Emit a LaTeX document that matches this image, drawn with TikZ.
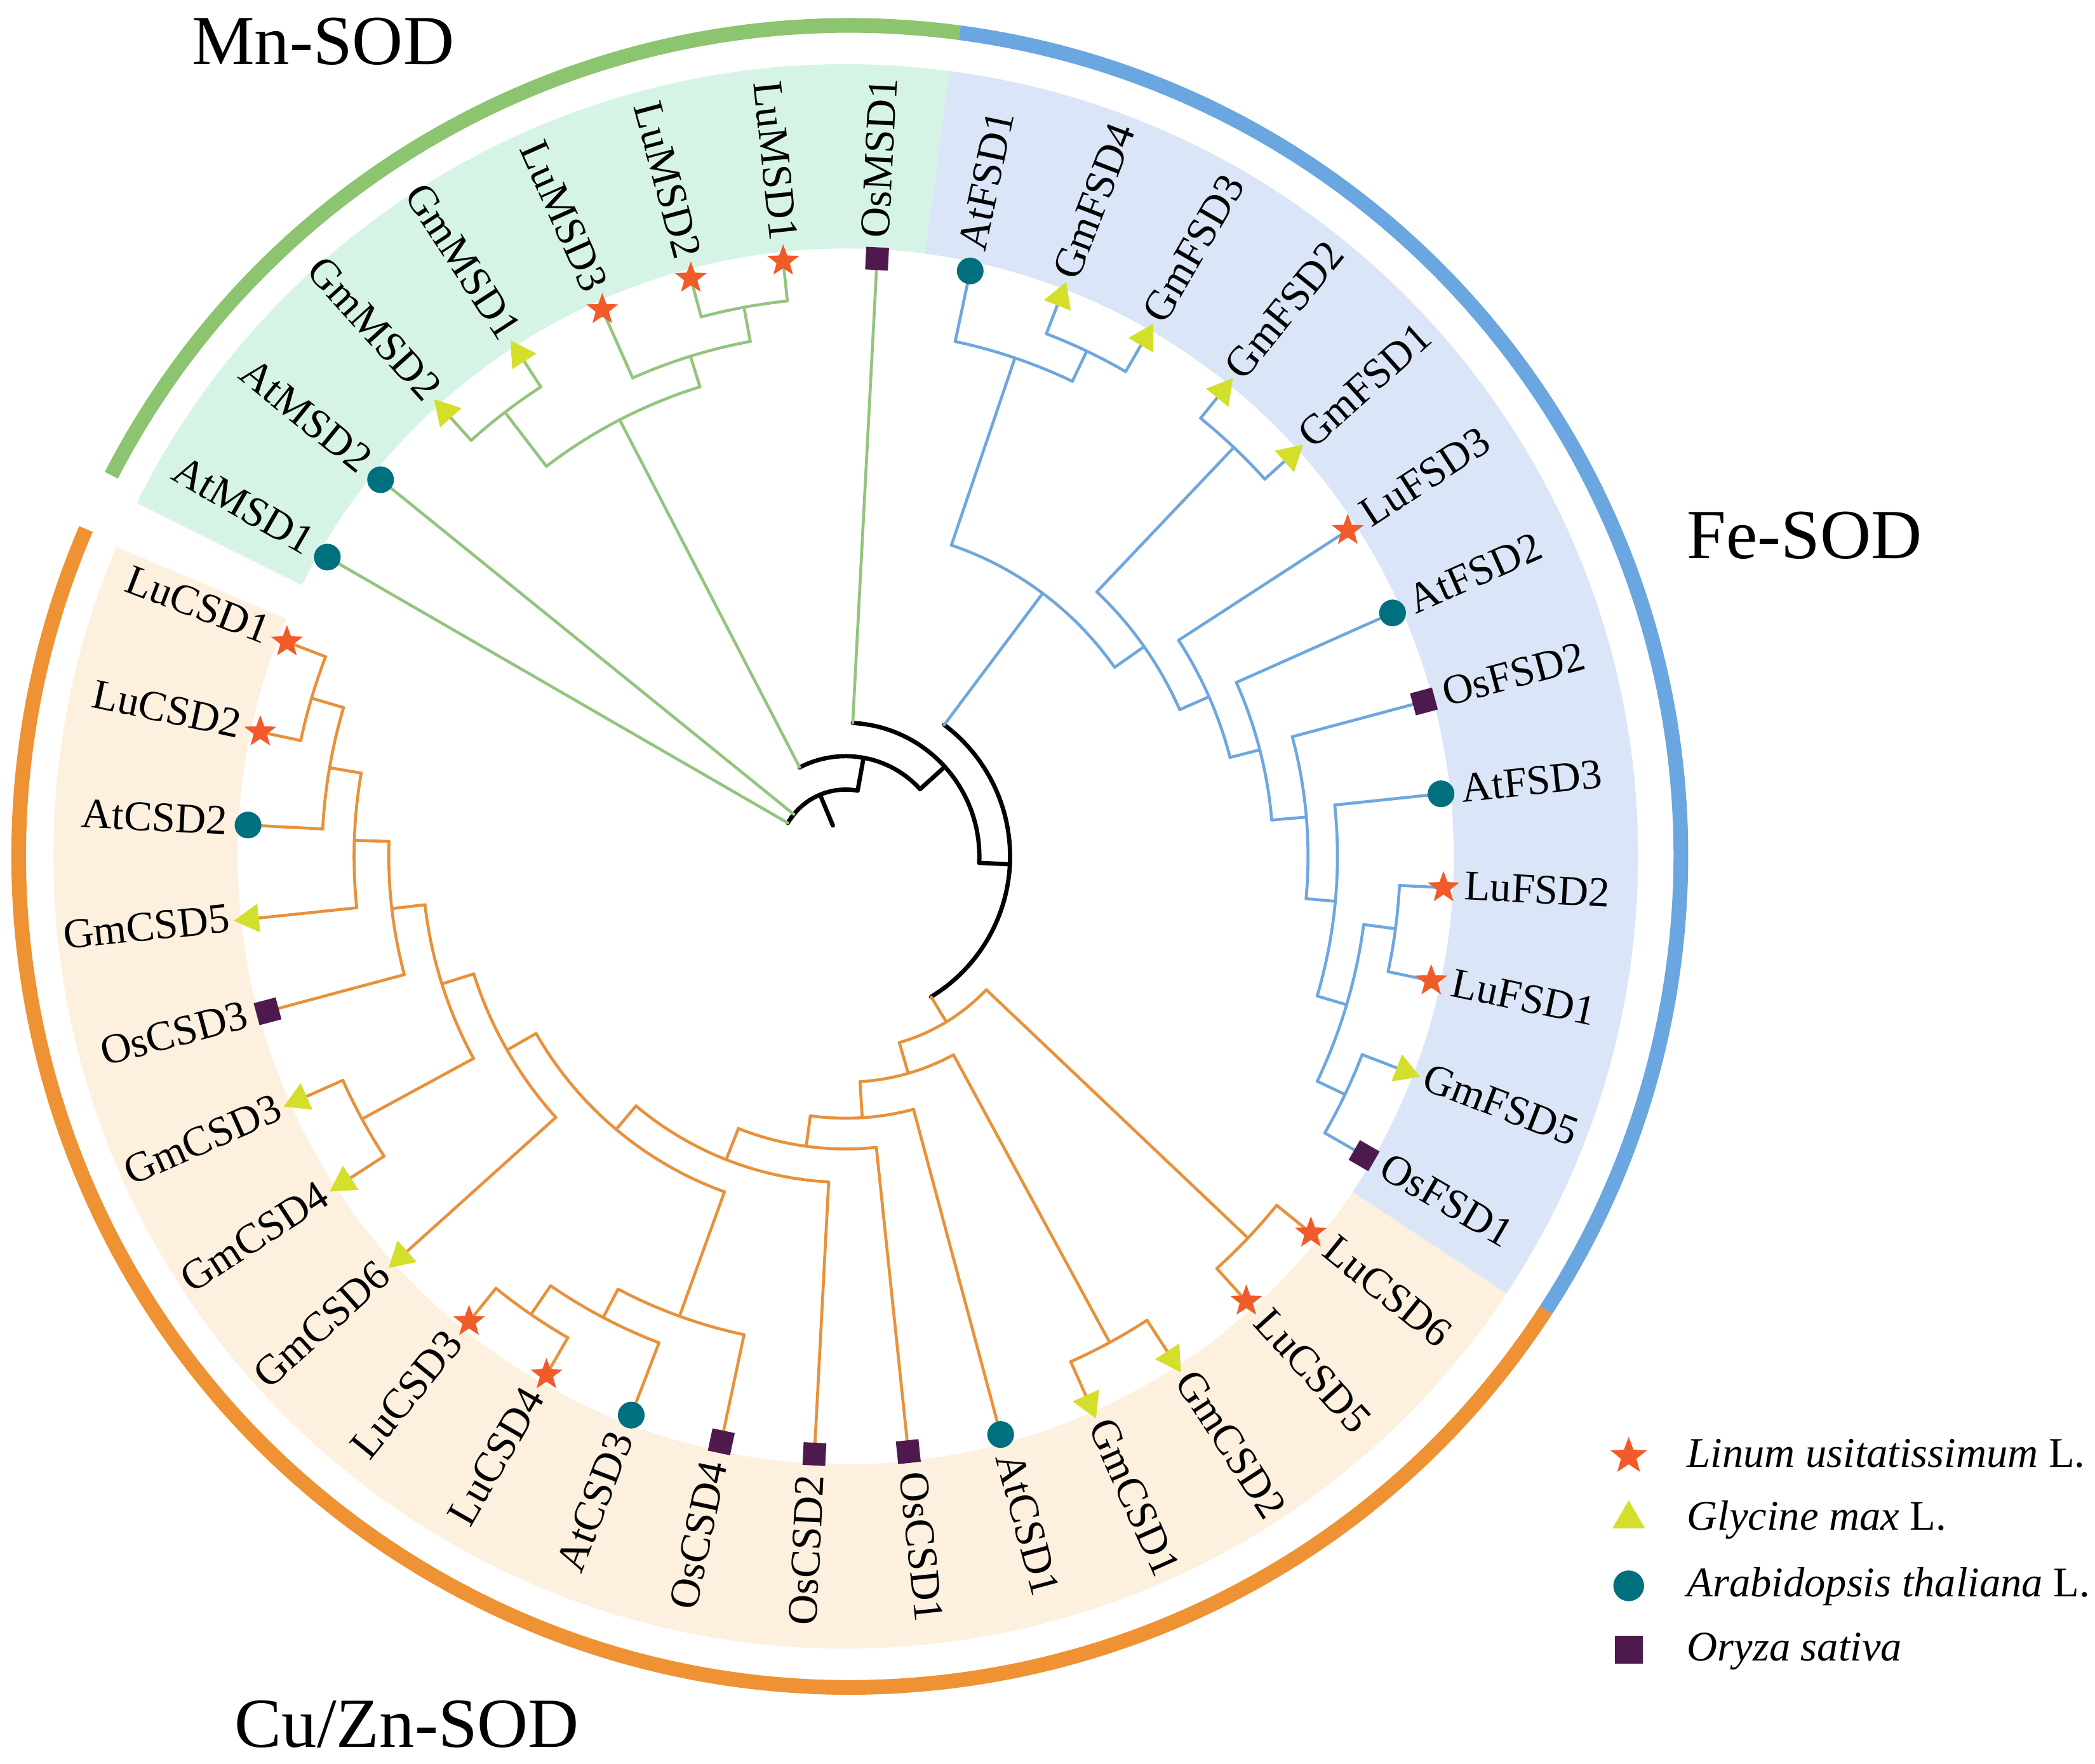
\documentclass[tikz,border=0pt]{standalone}
\usepackage{fontspec}
\setmainfont{Liberation Serif}[ItalicFont={Liberation Serif Italic}]
\usetikzlibrary{shapes.geometric}

\definecolor{mnring}{HTML}{8DC46F}
\definecolor{mnline}{HTML}{94C47E}
\definecolor{mnband}{HTML}{D6F4E6}
\definecolor{fering}{HTML}{6AA6E0}
\definecolor{feline}{HTML}{6EA7DE}
\definecolor{feband}{HTML}{DAE6F7}
\definecolor{curing}{HTML}{EE9233}
\definecolor{culine}{HTML}{E8913A}
\definecolor{cuband}{HTML}{FDF0DF}
\definecolor{lucol}{HTML}{F15A29}
\definecolor{gmcol}{HTML}{D4DF2B}
\definecolor{atcol}{HTML}{00707F}
\definecolor{oscol}{HTML}{4E1A4E}

\begin{document}
\begin{tikzpicture}
   [x=0.1mm,y=0.1mm,
   every node/.style={inner sep=0pt},
   rootbranch/.style={draw=black,line width=0.32mm,line cap=round},
   mnbranch/.style={draw=mnline,line width=0.22mm,line cap=round},
   febranch/.style={draw=feline,line width=0.22mm,line cap=round},
   cubranch/.style={draw=culine,line width=0.22mm,line cap=round},
   lumark/.style={star,star points=5,star point ratio=2.4,fill=lucol,minimum size=2.5mm},
   gmmark/.style={regular polygon,regular polygon sides=3,fill=gmcol,minimum size=2.5mm,rotate=\ang-90},
   atmark/.style={circle,fill=atcol,minimum size=2.0mm},
   osmark/.style={rectangle,fill=oscol,minimum size=1.7mm,rotate=\ang},
   tiplabel/.style={font=\fontsize{9}{10}\selectfont},
   grouplabel/.style={font=\fontsize{15}{18}\selectfont,anchor=base west},
   legendlabel/.style={font=\fontsize{9}{10}\selectfont,anchor=mid west}]

   \useasboundingbox (-633,-679) rectangle (935,641);

   % sectors behind the labels
   \fill[mnband] (82.5:455) arc[start angle=82.5,end angle=153.5,radius=455]
      -- (153.5:593) arc[start angle=153.5,end angle=82.5,radius=593] -- cycle;
   \fill[feband] (-33.5:455) arc[start angle=-33.5,end angle=82.5,radius=455]
      -- (82.5:593) arc[start angle=82.5,end angle=-33.5,radius=593] -- cycle;
   \fill[cuband] (-203:455) arc[start angle=-203,end angle=-33.5,radius=455]
      -- (-33.5:593) arc[start angle=-33.5,end angle=-203,radius=593] -- cycle;

   % outer rings
   \begin{scope}[shift={(3,0)},line width=1.1mm]
   \draw[mnring] (82.4:622) arc[start angle=82.4,end angle=152.7,radius=622];
   \draw[fering] (82.4:622) arc[start angle=82.4,end angle=-33.1,radius=622];
   \draw[curing] (-33.1:622) arc[start angle=-33.1,end angle=-203.2,radius=622];
   \end{scope}

   % inner nodes: style / parent radius / radius / first angle / last angle
   \foreach \br/\rp/\r/\a/\b in {
      rootbranch/25/50/145.5/79.75, rootbranch/50/50/150/141,
      rootbranch/50/75/117.4/42.1, rootbranch/75/100/87/-2.75,
      rootbranch/100/123/53.18/-58.72,
      mnbranch/75/368/127.5/107.25, mnbranch/368/419/132/123,
      mnbranch/368/392/114/100.5, mnbranch/392/418/105/96,
      febranch/123/246/71.25/35.11, febranch/246/394/78/64.5,
      febranch/394/419/69/60, febranch/246/273/46.5/23.72,
      febranch/273/422/51/42, febranch/273/297/33/14.44,
      febranch/297/320/24/4.875, febranch/320/346/15/-5.25,
      febranch/346/368/6/-16.5, febranch/368/391/-7.5/-25.5,
      febranch/391/415/-3/-12, febranch/391/414/-21/-30,
      cubranch/123/145/-43.5/-73.94, cubranch/145/415/-39/-48,
      cubranch/145/169/-61.5/-86.38, cubranch/169/414/-57/-66,
      cubranch/169/196/-75/-97.76, cubranch/196/219/-84/-111.53,
      cubranch/219/244/-93/-130.05, cubranch/244/267/-109.875/-150.23,
      cubranch/267/366/-102/-117.75, cubranch/366/390/-111/-124.5,
      cubranch/390/416/-120/-129, cubranch/267/292/-138/-162.47,
      cubranch/292/317/-151.5/-173.44, cubranch/317/412/-147/-156,
      cubranch/317/342/-165/-181.875, cubranch/342/368/-174/-189.75,
      cubranch/368/392/-183/-196.5, cubranch/392/417/-192/-201}{
      \pgfmathsetmacro\m{(\a+\b)/2}
      \draw[\br] (\m:\rp) -- (\m:\r);
      \draw[\br] (\a:\r) arc[start angle=\a,end angle=\b,radius=\r];
   }

   % leaves: index / name / marker / branch style / parent radius
   \def\tiplist{0/OsMSD1/osmark/mnbranch/100, 1/AtFSD1/atmark/febranch/394,
      2/GmFSD4/gmmark/febranch/419, 3/GmFSD3/gmmark/febranch/419,
      4/GmFSD2/gmmark/febranch/422, 5/GmFSD1/gmmark/febranch/422,
      6/LuFSD3/lumark/febranch/297, 7/AtFSD2/atmark/febranch/320,
      8/OsFSD2/osmark/febranch/346, 9/AtFSD3/atmark/febranch/368,
      10/LuFSD2/lumark/febranch/415, 11/LuFSD1/lumark/febranch/415,
      12/GmFSD5/gmmark/febranch/414, 13/OsFSD1/osmark/febranch/414,
      14/LuCSD6/lumark/cubranch/415, 15/LuCSD5/lumark/cubranch/415,
      16/GmCSD2/gmmark/cubranch/414, 17/GmCSD1/gmmark/cubranch/414,
      18/AtCSD1/atmark/cubranch/196, 19/OsCSD1/osmark/cubranch/219,
      20/OsCSD2/osmark/cubranch/244, 21/OsCSD4/osmark/cubranch/366,
      22/AtCSD3/atmark/cubranch/390, 23/LuCSD4/lumark/cubranch/416,
      24/LuCSD3/lumark/cubranch/416, 25/GmCSD6/gmmark/cubranch/292,
      26/GmCSD4/gmmark/cubranch/412, 27/GmCSD3/gmmark/cubranch/412,
      28/OsCSD3/osmark/cubranch/342, 29/GmCSD5/gmmark/cubranch/368,
      30/AtCSD2/atmark/cubranch/392, 31/LuCSD2/lumark/cubranch/417,
      32/LuCSD1/lumark/cubranch/417, 33/AtMSD1/atmark/mnbranch/50,
      34/AtMSD2/atmark/mnbranch/50, 35/GmMSD2/gmmark/mnbranch/419,
      36/GmMSD1/gmmark/mnbranch/419, 37/LuMSD3/lumark/mnbranch/392,
      38/LuMSD2/lumark/mnbranch/418, 39/LuMSD1/lumark/mnbranch/418}

   \foreach \k/\tip/\mk/\br/\pr in \tiplist{
      \pgfmathsetmacro\ang{87-9*\k}
      \coordinate (\tip) at (\ang:448);
      \draw[\br] (\ang:\pr) -- (\tip);
   }
   \foreach \k/\tip/\mk/\br/\pr in \tiplist{
      \pgfmathsetmacro\ang{87-9*\k}
      \node[\mk] (m\tip) at (\tip) {};
      \ifnum\k<20
         \node[tiplabel,rotate=\ang,anchor=mid west] (l\tip) at (\ang:463) {\tip};
      \else
         \node[tiplabel,rotate=\ang+180,anchor=mid east] (l\tip) at (\ang:463) {\tip};
      \fi
   }

   \node[grouplabel] (mnhead) at (-490,593) {Mn-SOD};
   \node[grouplabel] (fehead) at (629,223) {Fe-SOD};
   \node[grouplabel] (cuhead) at (-458,-667) {Cu/Zn-SOD};

   % legend
   \def\ang{90}
   \node[lumark,minimum size=2.9mm] (leglu) at (586,-449) {};
   \node[gmmark,minimum size=2.8mm] (leggm) at (586,-496) {};
   \node[atmark,minimum size=2.3mm] (legat) at (586,-546) {};
   \node[osmark,minimum size=2.1mm] (legos) at (586,-594) {};
   \node[legendlabel] (txtlu) at (629,-449) {\textit{Linum usitatissimum} L.};
   \node[legendlabel] (txtgm) at (629,-496) {\textit{Glycine max} L.};
   \node[legendlabel] (txtat) at (629,-546) {\textit{Arabidopsis thaliana} L.};
   \node[legendlabel] (txtos) at (629,-594) {\textit{Oryza sativa}};
\end{tikzpicture}
\end{document}
